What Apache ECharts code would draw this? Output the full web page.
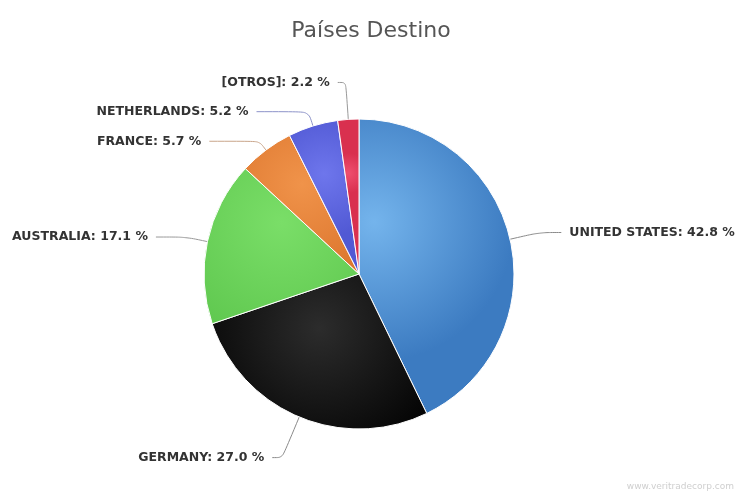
<!DOCTYPE html>
<html><head><meta charset="utf-8">
<script src="https://cdn.jsdelivr.net/npm/echarts@6/dist/echarts.min.js"></script>
<style>html,body{margin:0;padding:0;background:#fff}#c{width:742px;height:495px}</style>
</head><body><div id="c"></div>
<script>
const titleText = 'Países Destino';
const categories = ['UNITED STATES', 'GERMANY', 'AUSTRALIA', 'FRANCE', 'NETHERLANDS', '[OTROS]'];
const values = [42.8, 27.0, 17.1, 5.7, 5.2, 2.2];
const watermark = 'www.veritradecorp.com';

const colorStops = [
  ['#74b4ec', '#3c7bc1'],
  ['#2c2c2c', '#030303'],
  ['#7ade68', '#5cc54c'],
  ['#f0934a', '#db742c'],
  ['#6e76ec', '#5159d4'],
  ['#ef4f6f', '#d9304f']
];
const lineColors = ['#8a8a8a', '#8a8a8a', '#999', '#c9a58a', '#8d93c9', '#999'];
const lineLens = [[30, 22], [44, 10], [22, 30], [11, 50], [15, 52], [37, 8]];

const chart = echarts.init(document.getElementById('c'), null, {renderer: 'canvas'});
chart.setOption({
  animation: false,
  backgroundColor: '#fff',
  title: {
    text: titleText, left: 'center', top: 15,
    textStyle: {fontFamily: 'DejaVu Sans', fontSize: 22, fontWeight: 'normal', color: '#555'}
  },
  graphic: [{
    type: 'text', right: 8, bottom: 4,
    style: {text: watermark, fill: '#cfcfcf', font: '9px DejaVu Sans'}
  }],
  series: [{
    type: 'pie',
    center: [359, 274],
    radius: [0, 155],
    startAngle: 90,
    clockwise: true,
    avoidLabelOverlap: true,
    itemStyle: {borderColor: '#fff', borderWidth: 1},
    label: {
      show: true,
      overflow: 'none',
      formatter: p => p.name + ': ' + p.value.toFixed(1) + ' %',
      fontFamily: 'DejaVu Sans', fontSize: 12.5, fontWeight: 'bold', color: '#333',
      distanceToLabelLine: 8
    },
    labelLine: {show: true, smooth: 0.3, lineStyle: {width: 1}},
    data: categories.map((n, i) => ({
      name: n, value: values[i],
      itemStyle: {color: {type: 'radial', x: i === 0 ? 0.1 : 0.5, y: 0.35, r: 0.9,
        colorStops: [{offset: 0, color: colorStops[i][0]}, {offset: 1, color: colorStops[i][1]}]}},
      labelLine: {length: lineLens[i][0], length2: lineLens[i][1], lineStyle: {color: lineColors[i]}}
    }))
  }]
});
</script></body></html>
